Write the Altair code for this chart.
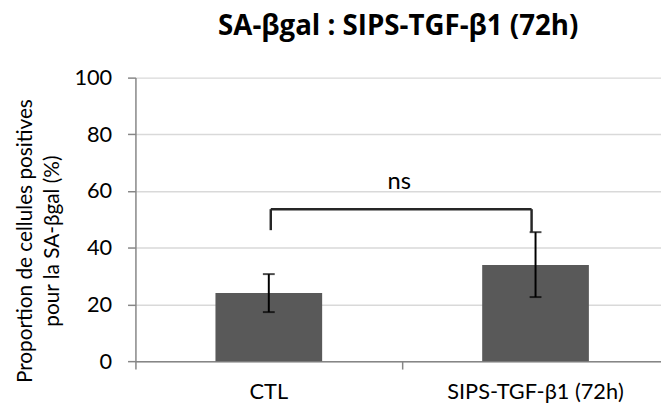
import altair as alt
import pandas as pd

# ---- data ----
categories = ["CTL", "SIPS-TGF-β1 (72h)"]
means = [24.0, 33.9]
err_low = [17.3, 22.6]
err_high = [30.7, 45.5]

# significance bracket (values on the y scale)
bracket_top = 53.6
bracket_left_bottom = 46.2
bracket_right_bottom = 45.5
sig_label = "ns"
sig_label_y = 63.0

title_text = "SA-βgal : SIPS-TGF-β1 (72h)"
y_title = ["Proportion de cellules positives", "pour la SA-βgal (%)"]
y_ticks = [0, 20, 40, 60, 80, 100]

FONT = "Lato"

df = pd.DataFrame({"cat": categories, "mean": means, "lo": err_low, "hi": err_high})
br = pd.DataFrame({
    "c1": [categories[0]], "c2": [categories[1]],
    "top": [bracket_top], "lb": [bracket_left_bottom], "rb": [bracket_right_bottom],
    "lab": [sig_label], "ly": [sig_label_y],
})

# the reference's category axis runs past the right edge of the picture
xscale = alt.Scale(domain=categories, paddingInner=0, paddingOuter=0, range=[0, 540])
yscale = alt.Scale(domain=[0, 100])

x_enc = alt.X("cat:N", scale=xscale, sort=categories, title=None,
              axis=alt.Axis(bandPosition=0, labelAngle=0,
                            labelFontSize=22, labelFont=FONT, labelColor="#000000",
                            labelPadding=13, tickSize=8, tickColor="#868686",
                            domainColor="#868686", domainWidth=1.5, tickWidth=1.5,
                            grid=False))
y_enc = alt.Y("mean:Q", scale=yscale, title=y_title,
              axis=alt.Axis(values=y_ticks, labelFontSize=22, labelFont=FONT,
                            labelColor="#000000", labelPadding=16, tickSize=8,
                            tickColor="#868686", tickWidth=1.5, domainColor="#868686",
                            domainWidth=1.5, gridColor="#d9d9d9", gridWidth=1.5,
                            titleFont=FONT, titleFontSize=21, titleFontWeight="normal",
                            titleColor="#000000", titlePadding=12, titleLineHeight=27,
                            titleY=165))

bars = alt.Chart(df).mark_bar(size=108, color="#595959").encode(x=x_enc, y=y_enc)

err = alt.Chart(df).mark_rule(color="#000000", strokeWidth=2).encode(
    x=alt.X("cat:N", scale=xscale, sort=categories),
    y=alt.Y("lo:Q", scale=yscale), y2="hi:Q")
cap_lo = alt.Chart(df).mark_tick(color="#000000", orient="horizontal", size=12, thickness=2).encode(
    x=alt.X("cat:N", scale=xscale, sort=categories), y=alt.Y("lo:Q", scale=yscale))
cap_hi = alt.Chart(df).mark_tick(color="#000000", orient="horizontal", size=12, thickness=2).encode(
    x=alt.X("cat:N", scale=xscale, sort=categories), y=alt.Y("hi:Q", scale=yscale))

br_h = alt.Chart(br).mark_rule(color="#262626", strokeWidth=2.5, xOffset=2, x2Offset=-4).encode(
    x=alt.X("c1:N", scale=xscale, sort=categories), x2="c2:N",
    y=alt.Y("top:Q", scale=yscale))
br_l = alt.Chart(br).mark_rule(color="#262626", strokeWidth=2.5, xOffset=2).encode(
    x=alt.X("c1:N", scale=xscale, sort=categories),
    y=alt.Y("lb:Q", scale=yscale), y2="top:Q")
br_r = alt.Chart(br).mark_rule(color="#262626", strokeWidth=2.5, xOffset=-4).encode(
    x=alt.X("c2:N", scale=xscale, sort=categories),
    y=alt.Y("rb:Q", scale=yscale), y2="top:Q")
ns = alt.Chart(br).mark_text(font=FONT, fontSize=24, color="#000000", xOffset=132,
                             baseline="middle").encode(
    x=alt.X("c1:N", scale=xscale, sort=categories),
    y=alt.Y("ly:Q", scale=yscale), text="lab:N")

chart = alt.layer(bars, err, cap_lo, cap_hi, br_h, br_l, br_r, ns).properties(
    width=532, height=287,
    title=alt.Title(title_text, font="Open Sans", fontSize=28, fontWeight="bold",
                    color="#000000", anchor="middle", offset=26),
    autosize=alt.AutoSizeParams(type="none"),
    padding={"left": 129, "top": 68, "right": 0, "bottom": 50},
).configure_view(stroke=None)

chart.save("out.html", embed_options={"renderer": "svg", "actions": False})
